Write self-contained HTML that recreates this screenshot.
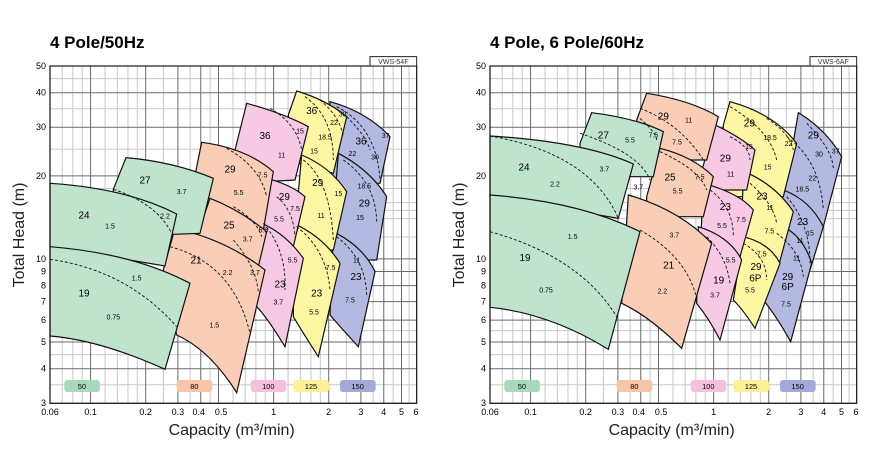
<!DOCTYPE html>
<html><head><meta charset="utf-8">
<style>
body{margin:0;background:#fff;width:877px;height:458px;overflow:hidden;font-family:"Liberation Sans",sans-serif}
svg{position:absolute;left:0;top:0}
</style></head><body>
<svg id="s" width="877" height="458" xmlns="http://www.w3.org/2000/svg">
<text x="50" y="48" font-size="17" font-weight="bold" font-family="Liberation Sans, sans-serif">4 Pole/50Hz</text>
<text x="490" y="48" font-size="17" font-weight="bold" font-family="Liberation Sans, sans-serif">4 Pole, 6 Pole/60Hz</text>
</svg>
<script>
const NS="http://www.w3.org/2000/svg";
const S=document.getElementById('s');
function el(p,t,a,txt){const e=document.createElementNS(NS,t);for(const k in a)e.setAttribute(k,a[k]);if(txt!==undefined)e.textContent=txt;p.appendChild(e);return e;}
const C={g:'#bfe3cc',p:'#f9cdb6',k:'#f8c9e4',y:'#fdf6a3',b:'#b3b9e0'};
const LC={g:'#a9d9bb',p:'#f7c5a8',k:'#f5c0de',y:'#fbf195',b:'#a3aad9'};
const X=q=>150+Math.log10(q/0.06)*549, Y=h=>48+Math.log10(50/h)*828;
function chart(ox,model,shapes,dashes,labels){
 const g=el(S,'g',{transform:`translate(${ox},50) scale(0.3333333)`});
 const mj=[0.1,0.2,0.3,0.4,0.5,1,2,3,4,5],mn=[0.07,0.08,0.09,0.12,0.14,0.16,0.18,0.25,0.35,0.45,0.6,0.7,0.8,0.9,1.2,1.4,1.6,1.8,2.5,3.5,4.5,5.5];
 const hm=[4,5,6,7,8,9,10,20,30,40],hn=[3.5,4.5,5.5,12,14,16,18,25,35,45,15];
 mn.forEach(q=>el(g,'line',{x1:X(q),x2:X(q),y1:Y(50),y2:Y(3),stroke:'#c8c8c8','stroke-width':1,'vector-effect':'non-scaling-stroke'}));
 hn.forEach(h=>el(g,'line',{x1:X(.06),x2:X(6),y1:Y(h),y2:Y(h),stroke:'#c8c8c8','stroke-width':1,'vector-effect':'non-scaling-stroke'}));
 mj.forEach(q=>el(g,'line',{x1:X(q),x2:X(q),y1:Y(50),y2:Y(3),stroke:'#6a6a6a','stroke-width':1,'vector-effect':'non-scaling-stroke'}));
 hm.forEach(h=>el(g,'line',{x1:X(.06),x2:X(6),y1:Y(h),y2:Y(h),stroke:'#6a6a6a','stroke-width':1,'vector-effect':'non-scaling-stroke'}));
 shapes.forEach(s=>el(g,'path',{d:s[1],fill:C[s[0]],stroke:'#111','stroke-width':1.2,'vector-effect':'non-scaling-stroke'}));
 dashes.forEach(d=>el(g,'path',{d:d,fill:'none',stroke:'#111','stroke-width':0.9,'stroke-dasharray':'3,2','vector-effect':'non-scaling-stroke'}));
 labels.forEach(l=>el(g,'text',{x:l[0],y:l[1],'font-size':l[3]?30:21,'text-anchor':'middle','font-family':'Liberation Sans, sans-serif'},l[2]));
 el(g,'rect',{x:150,y:48,width:1100,height:1012,fill:'none',stroke:'#222','stroke-width':1.3,'vector-effect':'non-scaling-stroke'});
 el(g,'rect',{x:1110,y:20,width:140,height:28,fill:'#fff',stroke:'#222','stroke-width':1,'vector-effect':'non-scaling-stroke'});
 el(g,'text',{x:1180,y:42,'font-size':21,'text-anchor':'middle',fill:'#333'},model);
 [['50','g',193],['80','p',530],['100','k',752],['125','y',880],['150','b',1020]].forEach(a=>{
  el(g,'rect',{x:a[2],y:990,width:107,height:36,rx:9,fill:LC[a[1]]});
  el(g,'text',{x:a[2]+53,y:1017,'font-size':22,'text-anchor':'middle'},a[0]);});
 [[50,50],[40,40],[30,30],[20,20],[10,10],[9,9],[8,8],[7,7],[6,6],[5,5],[4,4],[3,3]].forEach(a=>el(g,'text',{x:138,y:Y(a[0])+9,'font-size':27,'text-anchor':'end'},a[1]));
 [[.06,'0.06'],[.1,'0.1'],[.2,'0.2'],[.3,'0.3'],[.4,'0.4'],[.5,'0.5'],[1,'1'],[2,'2'],[3,'3'],[4,'4'],[5,'5'],[6,'6']].forEach(a=>el(g,'text',{x:X(a[0])+(a[1]=='0.4'?-6:a[1]=='0.5'?8:0),y:1095,'font-size':27,'text-anchor':'middle'},a[1]));
 el(g,'text',{x:695,y:1155,'font-size':48,'text-anchor':'middle',fill:'#222'},'Capacity (m³/min)');
 el(g,'text',{x:0,y:0,'font-size':48,'text-anchor':'middle',fill:'#222',transform:'translate(72,555) rotate(-90)'},'Total Head (m)');
}
chart(0,'VWS-54F',[
 ['b','M990,300 L990,155 Q1100,185 1170,260 L1140,400 L990,400 Z'],
 ['b','M1015,310 Q1110,360 1160,440 L1130,630 L990,630 Z'],
 ['b','M1000,545 Q1090,590 1125,665 L1075,890 Q1020,830 990,795 Z'],
 ['y','M865,195 L890,123 Q980,150 1040,200 L1000,370 L865,330 Z'],
 ['y','M905,315 Q990,350 1040,425 L1000,600 L880,600 Z'],
 ['y','M880,520 Q970,560 1020,640 L955,920 Q910,850 880,800 Z'],
 ['k','M705,300 L740,160 Q850,190 925,230 L885,390 L705,400 Z'],
 ['k','M780,380 Q870,400 915,440 L880,590 L760,590 Z'],
 ['k','M760,510 Q850,540 910,625 L855,890 Q800,800 770,770 Z'],
 ['p','M580,400 L605,277 Q740,295 820,365 L790,540 L580,540 Z'],
 ['p','M560,650 L630,445 Q720,480 800,545 L775,650 Z'],
 ['p','M490,660 L525,535 Q680,570 795,660 L710,1028 Q630,900 530,855 Z'],
 ['g','M340,418 L378,323 Q520,335 640,385 L600,550 L340,560 Z'],
 ['g','M150,400 Q380,415 530,492 L495,648 L150,590 Z'],
 ['g','M150,590 Q400,610 570,700 L495,958 Q300,870 150,858 Z']
],[
 'M150,628 Q380,660 530,830','M340,418 Q470,460 515,550',
 'M680,295 Q780,350 800,440','M700,470 Q770,510 785,560','M510,590 Q700,640 750,850','M700,570 Q770,650 775,730',
 'M810,175 Q890,220 905,300','M830,440 Q880,480 885,560','M790,520 Q860,600 855,720',
 'M915,140 Q1000,200 1000,330','M960,150 Q1020,200 1030,260','M910,330 Q990,390 1000,570','M890,530 Q980,600 990,720',
 'M1010,170 Q1130,230 1140,390','M1040,200 Q1100,260 1110,300','M1030,330 Q1130,400 1130,520','M1010,560 Q1100,630 1100,740'
],[
 [252,740,'19',1],[340,808,'0.75'],[410,692,'1.5'],[252,505,'24',1],[330,535,'1.5'],[495,505,'2.2'],[435,400,'27',1],[545,432,'3.7'],
 [690,368,'29',1],[716,435,'5.5'],[788,382,'7.5'],[687,535,'25',1],[743,575,'3.7'],[790,548,'5.5'],[588,640,'21',1],[683,675,'2.2'],[765,675,'3.7'],[643,832,'1.5'],
 [795,267,'36',1],[845,323,'11'],[900,250,'15'],[853,450,'29',1],[885,483,'7.5'],[837,515,'5.5'],[878,637,'5.5'],[840,712,'23',1],[835,763,'3.7'],
 [935,192,'36',1],[1028,200,'30'],[1002,225,'22'],[975,268,'18.5'],[942,310,'15'],[953,408,'29',1],[1015,438,'15'],[963,504,'11'],[992,660,'7.5'],[950,740,'23',1],[942,793,'5.5'],
 [1083,283,'36',1],[1157,264,'37'],[1057,318,'22'],[1125,328,'30'],[1093,415,'18.5'],[1093,470,'29',1],[1080,510,'15'],[1070,638,'11'],[1068,690,'23',1],[1050,757,'7.5']
]);
chart(440,'VWS-6AF',[
 ['b','M1035,420 L1075,188 Q1160,240 1205,320 L1150,530 L1035,530 Z'],
 ['b','M1030,420 Q1110,450 1150,530 L1110,660 L1000,660 Z'],
 ['b','M970,750 L1030,530 Q1090,560 1115,640 L1052,875 Q1010,800 970,750 Z'],
 ['y','M850,225 L870,155 Q1000,190 1070,280 L1030,440 L850,440 Z'],
 ['y','M910,380 L925,370 Q1010,410 1060,485 L1015,650 L900,650 Z'],
 ['y','M880,750 L910,560 Q990,580 1020,640 L945,835 Q910,780 880,750 Z'],
 ['k','M780,380 L825,225 Q900,260 945,300 L920,420 L780,420 Z'],
 ['k','M790,400 Q900,430 940,480 L900,620 L780,620 Z'],
 ['k','M770,760 L775,530 Q870,560 905,630 L840,870 Q810,810 770,760 Z'],
 ['p','M590,210 L620,130 Q750,150 835,200 L800,330 L590,330 Z'],
 ['p','M620,440 L660,295 Q760,320 820,380 L790,500 L620,500 Z'],
 ['p','M545,760 L565,435 Q720,480 815,580 L725,895 Q630,800 545,760 Z'],
 ['g','M420,280 L455,188 Q590,205 670,245 L640,380 L420,380 Z'],
 ['g','M150,258 Q430,275 580,342 L535,505 L150,440 Z'],
 ['g','M150,435 Q420,455 600,545 L505,898 Q330,790 150,772 Z']
],[
 'M150,258 Q450,310 535,505','M150,545 Q420,620 530,800','M420,250 Q600,310 630,390','M600,205 Q650,250 650,270',
 'M600,175 Q720,220 790,330','M660,305 Q780,360 800,420','M600,540 Q740,620 770,745',
 'M870,260 Q930,290 930,330','M810,420 Q880,470 880,560','M800,560 Q860,620 870,700',
 'M870,170 Q990,240 1010,330','M980,205 Q1050,250 1060,300','M930,400 Q1000,460 1010,520','M910,580 Q980,620 980,690',
 'M1100,220 Q1180,300 1180,360','M1040,260 Q1140,330 1150,480','M1040,440 Q1110,520 1110,640','M1010,550 Q1080,600 1090,680'
],[
 [255,633,'19',1],[318,728,'0.75'],[398,567,'1.5'],[252,362,'24',1],[345,410,'2.2'],[493,365,'3.7'],[490,265,'27',1],[570,278,'5.5'],[640,262,'7.5'],[595,418,'3.7'],
 [670,208,'29',1],[746,218,'11'],[711,283,'7.5'],[690,392,'25',1],[779,389,'7.5'],[713,430,'5.5'],[703,563,'3.7'],[686,655,'21',1],[667,730,'2.2'],
 [856,335,'29',1],[872,380,'11'],[927,297,'15'],[856,480,'23',1],[903,516,'7.5'],[846,534,'5.5'],[872,638,'5.5'],[836,700,'19',1],[825,742,'3.7'],
 [928,230,'29',1],[990,270,'18.5'],[1046,288,'22'],[983,358,'15'],[966,448,'23',1],[990,480,'11'],[988,551,'7.5'],[965,620,'7.5'],[948,660,'29',1],[946,694,'6P',1],[930,727,'5.5'],
 [1120,265,'29',1],[1187,310,'37'],[1137,320,'30'],[1117,392,'22'],[1087,425,'18.5'],[1088,525,'23',1],[1110,557,'15'],[1080,579,'11'],[1070,631,'11'],[1043,690,'29',1],[1043,720,'6P',1],[1038,770,'7.5']
]);
</script>
</body></html>
